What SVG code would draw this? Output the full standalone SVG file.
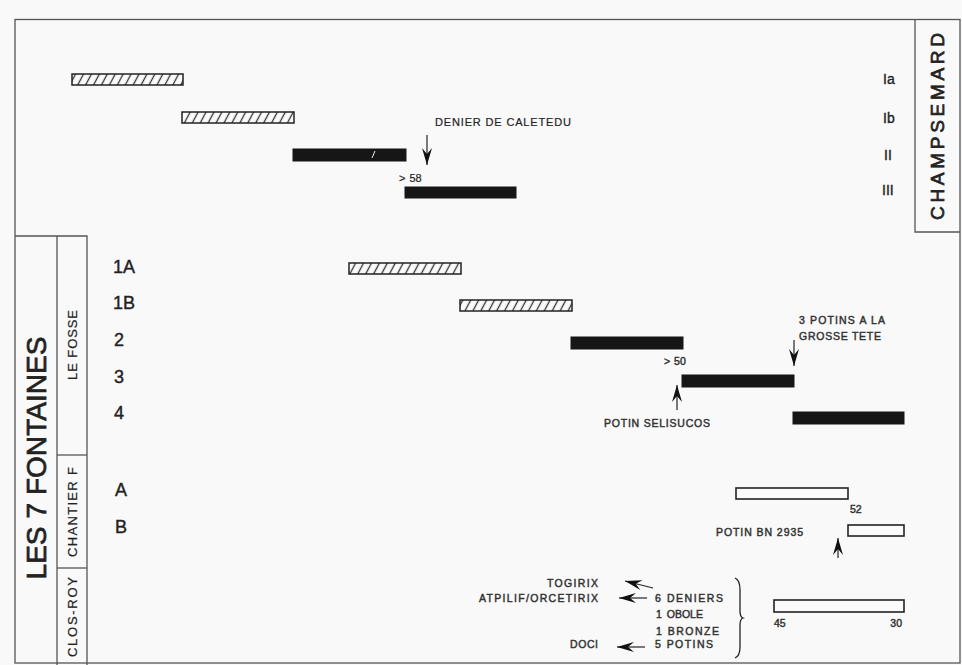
<svg xmlns="http://www.w3.org/2000/svg" width="962" height="665" viewBox="0 0 962 665">
<defs>
<pattern id="hatch" patternUnits="userSpaceOnUse" width="7" height="10" patternTransform="rotate(28)">
<rect width="7" height="10" fill="#fbfbfb"/>
<line x1="3.5" y1="-1" x2="3.5" y2="11" stroke="#333" stroke-width="1.3"/>
</pattern>
<marker id="barb" markerUnits="userSpaceOnUse" markerWidth="19" markerHeight="12" viewBox="-18 -6 19 12" refX="0" refY="0" orient="auto">
<path d="M0,0 L-17,-5 L-11,0 L-17,5 Z" fill="#111"/>
</marker>
</defs>
<style>
.frame{fill:none;stroke:#555;stroke-width:1.3}
.hb{fill:url(#hatch);stroke:#222;stroke-width:1.5}
.bb{fill:#161616;stroke:#161616;stroke-width:1}
.ob{fill:#fbfbfb;stroke:#222;stroke-width:1.6}
.t{font-family:"Liberation Sans",Arial,sans-serif;fill:#222}
.sm{font-size:11px;stroke:#222;stroke-width:0.2}
.smb{font-size:10.5px;fill:#333;stroke:#333;stroke-width:0.45}
.row{font-size:18px;stroke:#222;stroke-width:0.4}
.rom{font-size:14px;stroke:#222;stroke-width:0.35}
.big{font-size:28px;stroke:#222;stroke-width:0.7}
.side{font-size:13px;stroke:#222;stroke-width:0.2}
.arr{stroke:#222;stroke-width:1.2;fill:none;marker-end:url(#barb)}
</style>
<rect width="962" height="665" fill="#f9f9f9"/>

<g id="frame">
<rect class="frame" x="15" y="19.5" width="945" height="643.5"/>
<polyline class="frame" points="915,19.5 915,232 960,232"/>
<polyline class="frame" points="15,236 87,236 87,665"/>
<line class="frame" x1="57" y1="236" x2="57" y2="665"/>
<line class="frame" x1="57" y1="455" x2="87" y2="455"/>
<line class="frame" x1="57" y1="568" x2="87" y2="568"/>
</g>

<g id="site-champsemard">
<text class="t" font-size="19" stroke="#222" stroke-width="0.7" transform="translate(944,126.5) rotate(-90)" text-anchor="middle" textLength="187" lengthAdjust="spacing">CHAMPSEMARD</text>
</g>
<g id="site-les7fontaines">
<text class="t big" transform="translate(45.5,458) rotate(-90)" text-anchor="middle" textLength="243" lengthAdjust="spacing">LES 7 FONTAINES</text>
</g>
<g id="sector-lefosse">
<text class="t side" transform="translate(77,345) rotate(-90)" text-anchor="middle" textLength="70" lengthAdjust="spacing">LE FOSSE</text>
</g>
<g id="sector-chantierf">
<text class="t side" transform="translate(77,512) rotate(-90)" text-anchor="middle" textLength="90" lengthAdjust="spacing">CHANTIER F</text>
</g>
<g id="sector-closroy">
<text class="t side" transform="translate(77,617) rotate(-90)" text-anchor="middle" textLength="80" lengthAdjust="spacing">CLOS-ROY</text>
</g>

<g id="phase-Ia"><rect class="hb" x="72" y="74" width="111" height="11"/><text class="t rom" x="883" y="84">Ia</text></g>
<g id="phase-Ib"><rect class="hb" x="182" y="112" width="112" height="11"/><text class="t rom" x="883" y="123">Ib</text></g>
<g id="phase-II"><rect class="bb" x="293" y="149" width="113" height="12"/><line x1="372" y1="158" x2="375" y2="151" stroke="#eee" stroke-width="1"/><text class="t rom" x="884" y="160">II</text></g>
<g id="phase-III"><rect class="bb" x="405" y="187" width="111" height="11"/><text class="t rom" x="882" y="195">III</text></g>

<g id="phase-1A"><rect class="hb" x="349" y="263" width="112" height="11"/><text class="t row" x="113" y="272.5">1A</text></g>
<g id="phase-1B"><rect class="hb" x="460" y="300" width="112" height="11"/><text class="t row" x="113" y="308.5">1B</text></g>
<g id="phase-2"><rect class="bb" x="571" y="337" width="112" height="12"/><text class="t row" x="114" y="345.5">2</text></g>
<g id="phase-3"><rect class="bb" x="682" y="375" width="112" height="12"/><text class="t row" x="114" y="382.5">3</text></g>
<g id="phase-4"><rect class="bb" x="793" y="412" width="111" height="12"/><text class="t row" x="114" y="418.5">4</text></g>
<g id="phase-A"><rect class="ob" x="736" y="488" width="112" height="11"/><text class="t row" x="115" y="495.5">A</text></g>
<g id="phase-B"><rect class="ob" x="848" y="525" width="56" height="11"/><text class="t row" x="115" y="532.5">B</text></g>
<g id="phase-closroy"><rect class="ob" x="774" y="600" width="130" height="12"/></g>

<g id="labels">
<text class="t sm" x="435" y="126" textLength="136" lengthAdjust="spacing">DENIER DE CALETEDU</text>
<text class="t sm" x="399" y="182" word-spacing="1">&gt; 58</text>
<text class="t smb" x="664" y="365" word-spacing="1">&gt; 50</text>
<text class="t smb" x="604" y="427" textLength="106" lengthAdjust="spacing">POTIN SELISUCOS</text>
<text class="t smb" x="799" y="324" textLength="86" lengthAdjust="spacing">3 POTINS A LA</text>
<text class="t smb" x="799" y="340" textLength="82" lengthAdjust="spacing">GROSSE TETE</text>
<text class="t smb" x="850" y="513">52</text>
<text class="t smb" x="716" y="536" textLength="87" lengthAdjust="spacing">POTIN BN 2935</text>
<text class="t smb" x="774" y="627">45</text>
<text class="t smb" x="902" y="627" text-anchor="end">30</text>
<text class="t smb" x="547" y="587" textLength="51" lengthAdjust="spacing">TOGIRIX</text>
<text class="t smb" x="479" y="602" textLength="119" lengthAdjust="spacing">ATPILIF/ORCETIRIX</text>
<text class="t smb" x="570" y="648" textLength="28" lengthAdjust="spacing">DOCI</text>
<text class="t smb" x="655" y="602" textLength="68" lengthAdjust="spacing">6 DENIERS</text>
<text class="t smb" x="656" y="618" word-spacing="2">1 OBOLE</text>
<text class="t smb" x="656" y="635" textLength="63" lengthAdjust="spacing">1 BRONZE</text>
<text class="t smb" x="655" y="648" textLength="58" lengthAdjust="spacing">5 POTINS</text>
<path d="M735,578 Q740,580 740,590 L740,611 Q740,617 743,618 Q740,619 740,625 L740,647 Q740,656 735,658" fill="none" stroke="#222" stroke-width="1.3"/>
</g>

<g id="connectors">
<line class="arr" x1="427" y1="135" x2="427" y2="165"/>
<line class="arr" x1="794" y1="340" x2="794" y2="366"/>
<line class="arr" x1="677" y1="410" x2="677" y2="385"/>
<line class="arr" x1="838" y1="558" x2="838" y2="538"/>
<line class="arr" x1="653" y1="588" x2="625" y2="581"/>
<line class="arr" x1="647" y1="598" x2="619" y2="598"/>
<line class="arr" x1="645" y1="647" x2="617" y2="647"/>
</g>
</svg>
